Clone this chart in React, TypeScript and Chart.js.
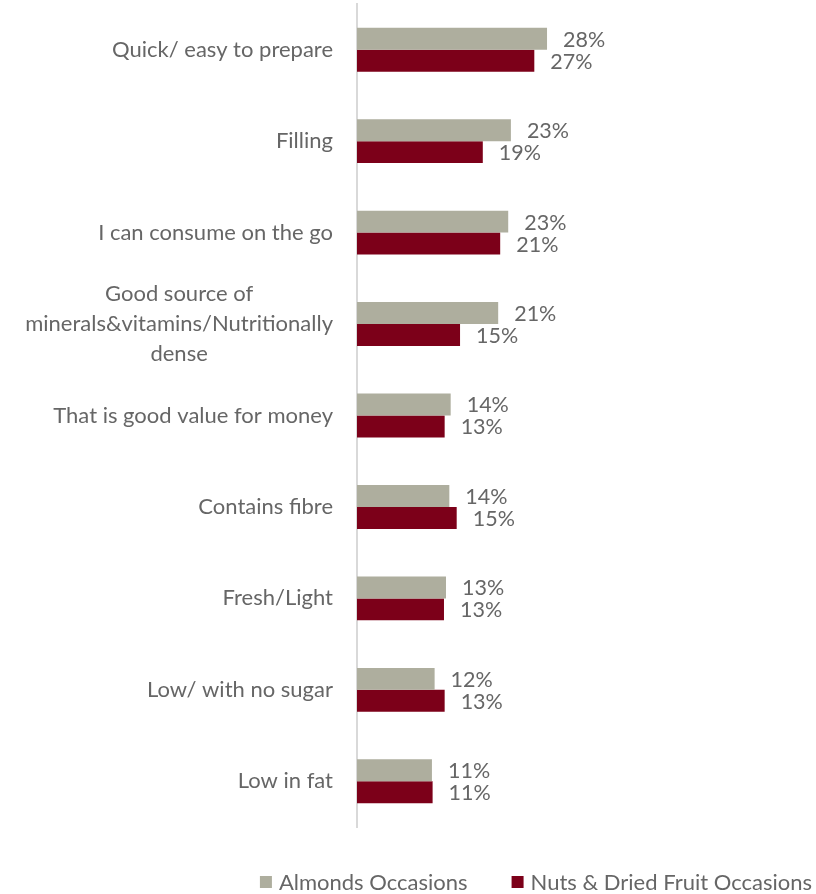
import React, { useEffect, useRef } from "react";
import { Chart, registerables } from "chart.js";

Chart.register(...registerables);

const categories: (string | string[])[] = [
  "Quick/ easy to prepare",
  "Filling",
  "I can consume on the go",
  ["Good source of", "minerals&vitamins/Nutritionally", "dense"],
  "That is good value for money",
  "Contains fibre",
  "Fresh/Light",
  "Low/ with no sugar",
  "Low in fat",
];

const almondsLabel = "Almonds Occasions";
const nutsLabel = "Nuts & Dried Fruit Occasions";

const almondsValues = [28.4, 23.0, 22.6, 21.1, 14.0, 13.8, 13.3, 11.6, 11.2];
const nutsValues = [26.5, 18.8, 21.4, 15.4, 13.1, 14.9, 13.0, 13.1, 11.3];

const almondsColor = "#AEAE9E";
const nutsColor = "#7C0019";
const textColor = "#666666";
const fontFamily = "Lato, 'Open Sans', sans-serif";
const tickFontSize = 22;
const tickLineHeight = 30;
const tickPadding = 24;

const dataLabelPlugin = {
  id: "dataLabels",
  afterDatasetsDraw(chart: any) {
    const ctx = chart.ctx;
    ctx.save();
    ctx.font = `21.5px ${fontFamily}`;
    ctx.fillStyle = textColor;
    ctx.textAlign = "left";
    ctx.textBaseline = "middle";
    chart.data.datasets.forEach((ds: any, di: number) => {
      const meta = chart.getDatasetMeta(di);
      meta.data.forEach((bar: any, i: number) => {
        const v = ds.data[i];
        ctx.fillText(`${Math.round(v)}%`, bar.x + 16, bar.y + 1);
      });
    });
    ctx.restore();
  },
};

// Multi-line category labels: block right-aligned, lines centred (as in the original)
const multiLineLabelPlugin = {
  id: "multiLineLabels",
  afterDraw(chart: any) {
    const yScale = chart.scales.y;
    const ctx = chart.ctx;
    ctx.save();
    ctx.font = `${tickFontSize}px ${fontFamily}`;
    ctx.fillStyle = textColor;
    ctx.textAlign = "center";
    ctx.textBaseline = "middle";
    chart.data.labels.forEach((lab: any, i: number) => {
      if (!Array.isArray(lab)) return;
      const maxW = Math.max(...lab.map((l: string) => ctx.measureText(l).width));
      const cx = yScale.right - tickPadding - maxW / 2;
      const cy = yScale.getPixelForValue(i);
      const startY = cy - ((lab.length - 1) * tickLineHeight) / 2;
      lab.forEach((line: string, j: number) => {
        ctx.fillText(line, cx, startY + j * tickLineHeight);
      });
    });
    ctx.restore();
  },
};

const legendPlugin = {
  id: "customLegend",
  afterDraw(chart: any) {
    const ctx = chart.ctx;
    ctx.save();
    ctx.font = `22px ${fontFamily}`;
    ctx.textBaseline = "middle";
    ctx.textAlign = "left";
    const box = 12;
    const gap = 7;
    const spacing = 44;
    const items = chart.data.datasets.map((ds: any) => ({
      text: ds.label,
      color: ds.backgroundColor,
      w: ctx.measureText(ds.label).width,
    }));
    const total =
      items.reduce((s: number, it: any) => s + box + gap + it.w, 0) +
      spacing * (items.length - 1);
    let x = chart.width - 4 - total;
    const y = chart.height - 12;
    items.forEach((it: any) => {
      ctx.fillStyle = it.color;
      ctx.fillRect(x, y - box / 2, box, box);
      ctx.fillStyle = textColor;
      ctx.fillText(it.text, x + box + gap, y + 1);
      x += box + gap + it.w + spacing;
    });
    ctx.restore();
  },
};

export default function App() {
  const canvasRef = useRef<HTMLCanvasElement | null>(null);

  useEffect(() => {
    if (!canvasRef.current) return;
    const chart = new Chart(canvasRef.current, {
      type: "bar",
      data: {
        labels: categories,
        datasets: [
          {
            label: almondsLabel,
            data: almondsValues,
            backgroundColor: almondsColor,
            categoryPercentage: 0.48,
            barPercentage: 1,
          },
          {
            label: nutsLabel,
            data: nutsValues,
            backgroundColor: nutsColor,
            categoryPercentage: 0.48,
            barPercentage: 1,
          },
        ],
      },
      options: {
        indexAxis: "y",
        animation: false,
        responsive: true,
        maintainAspectRatio: false,
        layout: { padding: { top: 4, right: 4, bottom: 67, left: 0 } },
        plugins: {
          legend: { display: false },
          tooltip: { enabled: false },
        },
        scales: {
          x: {
            display: false,
            min: 0,
            max: 68,
          },
          y: {
            afterFit(scale: any) {
              scale.width = 357;
              scale.paddingTop = 0;
              scale.paddingBottom = 0;
            },
            grid: { display: false, drawTicks: false },
            border: { display: true, color: "#D9D9D9", width: 2 },
            ticks: {
              autoSkip: false,
              color: textColor,
              padding: tickPadding,
              font: { family: fontFamily, size: tickFontSize },
              callback(this: any, value: any) {
                const lab = categories[value as number];
                return Array.isArray(lab) ? "" : lab;
              },
            },
          },
        },
      },
      plugins: [dataLabelPlugin, multiLineLabelPlugin, legendPlugin],
    });
    return () => chart.destroy();
  }, []);

  return (
    <div style={{ position: "fixed", left: 0, top: 0, width: 816, height: 894, background: "#fff" }}>
      <canvas ref={canvasRef} />
    </div>
  );
}
